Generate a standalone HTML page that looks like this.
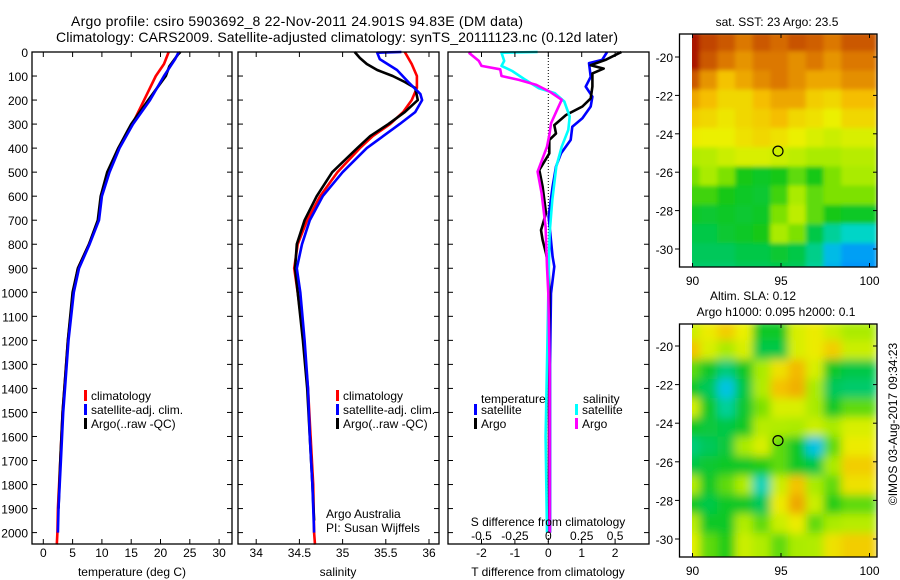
<!DOCTYPE html>
<html><head><meta charset="utf-8"><style>
html,body{margin:0;padding:0;background:#fff;}
svg{display:block;font-family:"Liberation Sans",Arial,sans-serif;}
text{font-size:12px;fill:#000;}
</style></head><body>
<svg id="chart" width="900" height="580" viewBox="0 0 900 580" xmlns="http://www.w3.org/2000/svg">
<defs>
<clipPath id="clipTop"><rect x="692" y="34" width="185" height="233"/></clipPath>
<clipPath id="clipBot"><rect x="692" y="324" width="185" height="233"/></clipPath>
<filter id="blurTop" x="0" y="0" width="1" height="1"><feGaussianBlur stdDeviation="2" edgeMode="duplicate"/></filter>
<filter id="blurBot" x="0" y="0" width="1" height="1"><feGaussianBlur stdDeviation="4.5" edgeMode="duplicate"/></filter>
</defs>
<text x="297" y="26" text-anchor="middle" style="font-size:14px" textLength="452">Argo profile: csiro 5903692_8 22-Nov-2011 24.901S 94.83E (DM data)</text>
<text x="337" y="42" text-anchor="middle" style="font-size:14px" textLength="562">Climatology: CARS2009. Satellite-adjusted climatology: synTS_20111123.nc (0.12d later)</text>
<g id="p1"></g>
<g id="p2"></g>
<g id="p3"></g>
<g id="m1"></g>
<g id="m2"></g>
<text x="777" y="26" text-anchor="middle">sat. SST: 23 Argo: 23.5</text>
<text x="753" y="300" text-anchor="middle">Altim. SLA: 0.12</text>
<text x="776" y="316" text-anchor="middle">Argo h1000: 0.095 h2000: 0.1</text>
<text x="897" y="424" text-anchor="middle" transform="rotate(-90 897 424)">©IMOS 03-Aug-2017 09:34:23</text>
</svg>
<script>
// ---------- profile data ----------
const tempClimDepth=[0,50,100,200,300,400,500,600,700,800,900,1000,1200,1400,1500,1700,1900,2000,2050];
const tempClim=[21.4,20.6,19.2,17.2,15.2,12.8,11.0,9.9,9.4,7.8,5.9,5.1,4.2,3.6,3.3,2.9,2.5,2.4,2.3];
const tempSatDepth=[0,30,100,200,300,400,500,600,700,800,900,1000,1200,1400,1500,1700,1900,2000];
const tempSat=[23.1,22.5,20.6,18.2,15.3,13.0,11.3,10.0,9.5,7.9,6.1,5.2,4.3,3.7,3.4,3.0,2.6,2.5];
const tempArgoDepth=[0,10,60,100,200,300,400,500,600,700,800,900,1000,1200,1400,1500,1700,1900];
const tempArgo=[23.4,23.0,21.5,20.9,17.9,15.0,12.8,10.9,9.8,9.3,7.8,5.9,5.0,4.2,3.6,3.3,2.9,2.6];

const salClimDepth=[0,50,100,150,200,250,300,350,400,500,600,700,800,900,1000,1200,1400,1600,1800,2000,2050];
const salClim=[35.72,35.80,35.86,35.86,35.80,35.70,35.55,35.35,35.20,34.94,34.74,34.59,34.48,34.44,34.48,34.55,34.60,34.63,34.66,34.67,34.68];
const salSatDepth=[0,3,30,75,125,175,200,250,300,350,400,500,600,700,800,900,1000,1200,1400,1600,1800,2000];
const salSat=[35.68,35.40,35.43,35.63,35.76,35.90,35.92,35.84,35.66,35.47,35.28,35.00,34.77,34.62,34.53,34.47,34.51,34.56,34.60,34.62,34.65,34.67];
const salArgoDepth=[0,25,50,75,100,125,150,200,250,300,350,400,500,600,700,800,900,1000,1200,1400,1600,1800,1950];
const salArgo=[35.14,35.20,35.28,35.40,35.58,35.72,35.84,35.87,35.72,35.53,35.32,35.17,34.88,34.70,34.56,34.47,34.45,34.48,34.54,34.59,34.62,34.65,34.67];

const dTSatDepth=[0,33,46,103,144,186,227,276,311,366,422,477,560,685,852,893,1004,1300,1600,2000];
const dTSat=[1.76,1.61,1.22,1.27,1.12,1.32,1.27,1.02,0.72,0.67,0.38,0.23,0.13,0.01,0.13,0.18,0.08,0.05,0.05,0.05];
const dTArgoDepth=[0,33,55,69,89,144,193,227,262,304,339,366,422,491,560,671,741,782,838,893,1004,1300,1600,2000];
const dTArgo=[2.19,1.71,1.27,1.66,1.32,1.32,1.27,1.02,0.53,0.18,0.23,0.03,0.03,-0.27,-0.17,-0.07,-0.22,-0.17,-0.07,0.01,0.03,0.02,0.02,0.02];
const dSSatDepth=[0,3,37,58,79,116,151,172,206,269,324,394,477,616,755,1004,1300,1600,2000];
const dSSat=[-0.08,-0.35,-0.33,-0.35,-0.27,-0.17,-0.07,0.05,0.12,0.16,0.15,0.10,0.06,0.03,0.01,0.0,-0.01,-0.02,-0.01];
const dSArgoDepth=[0,5,37,58,72,100,116,137,165,199,248,297,339,394,498,588,727,893,1004,1300,1600,2000];
const dSArgo=[-0.58,-0.59,-0.52,-0.50,-0.36,-0.35,-0.22,-0.09,0.01,0.10,0.06,0.02,0.01,-0.01,-0.08,-0.05,-0.02,-0.01,0.0,0.01,0.01,0.01];

const depthTicks=[0,100,200,300,400,500,600,700,800,900,1000,1100,1200,1300,1400,1500,1600,1700,1800,1900,2000];
const tempTicks=[0,5,10,15,20,25,30];
const salTicks=[34,34.5,35,35.5,36];
const dTTicks=[-2,-1,0,1,2];
const dSTicks=[-0.5,-0.25,0,0.25,0.5];

// ---------- map data (rows north->south, cols west->east) ----------
const mapLons=[90.4,91.4,92.4,93.4,94.4,95.4,96.4,97.4,98.4,99.4,100.4];
const sstLats=[-19.2,-20.2,-21.2,-22.2,-23.2,-24.2,-25.2,-26.2,-27.2,-28.2,-29.2,-30.2,-31.2];
const sstGrid=[
[0.95,0.88,0.85,0.80,0.85,0.82,0.86,0.84,0.80,0.85,0.85],
[0.95,0.85,0.80,0.74,0.80,0.80,0.75,0.80,0.74,0.80,0.80],
[0.85,0.74,0.64,0.70,0.76,0.80,0.75,0.70,0.70,0.75,0.75],
[0.70,0.65,0.60,0.60,0.65,0.70,0.70,0.62,0.60,0.65,0.65],
[0.62,0.60,0.57,0.60,0.62,0.65,0.60,0.58,0.55,0.60,0.60],
[0.56,0.55,0.55,0.58,0.60,0.58,0.55,0.52,0.50,0.52,0.52],
[0.46,0.47,0.50,0.52,0.52,0.50,0.48,0.45,0.45,0.47,0.47],
[0.42,0.45,0.42,0.35,0.33,0.35,0.40,0.35,0.42,0.45,0.45],
[0.38,0.38,0.35,0.33,0.32,0.38,0.45,0.40,0.42,0.42,0.42],
[0.33,0.32,0.33,0.32,0.33,0.42,0.48,0.40,0.35,0.33,0.33],
[0.30,0.30,0.32,0.33,0.35,0.45,0.42,0.30,0.24,0.21,0.21],
[0.28,0.28,0.28,0.30,0.30,0.32,0.30,0.25,0.17,0.14,0.14],
[0.27,0.27,0.27,0.28,0.28,0.29,0.28,0.24,0.16,0.13,0.13]];
const slaLats=[-19.2,-20.2,-21.2,-22.2,-23.2,-24.2,-25.2,-26.2,-27.2,-28.2,-29.2,-30.2,-31.2];
const slaGrid=[
[0.50,0.56,0.62,0.55,0.33,0.33,0.52,0.56,0.50,0.45,0.45],
[0.64,0.52,0.45,0.52,0.30,0.30,0.52,0.56,0.62,0.50,0.50],
[0.40,0.33,0.26,0.33,0.45,0.58,0.66,0.52,0.33,0.30,0.30],
[0.33,0.28,0.18,0.30,0.46,0.64,0.68,0.45,0.28,0.27,0.27],
[0.52,0.33,0.24,0.32,0.42,0.52,0.52,0.45,0.33,0.40,0.40],
[0.33,0.31,0.30,0.33,0.47,0.46,0.45,0.50,0.45,0.52,0.52],
[0.26,0.28,0.31,0.45,0.52,0.40,0.33,0.18,0.40,0.56,0.56],
[0.30,0.32,0.33,0.33,0.36,0.40,0.33,0.30,0.45,0.62,0.62],
[0.47,0.33,0.40,0.46,0.22,0.50,0.64,0.45,0.40,0.58,0.58],
[0.33,0.30,0.33,0.33,0.28,0.56,0.70,0.50,0.36,0.40,0.40],
[0.48,0.33,0.33,0.46,0.40,0.50,0.56,0.40,0.45,0.47,0.47],
[0.54,0.40,0.36,0.50,0.46,0.40,0.45,0.46,0.58,0.62,0.62],
[0.54,0.40,0.36,0.50,0.46,0.40,0.45,0.46,0.58,0.62,0.62]];
const mapLonTicks=[90,95,100];
const mapLatTicks=[-20,-22,-24,-26,-28,-30];
const argoLon=94.83, argoLat=-24.901;

// ---------- geometry ----------
const NS="http://www.w3.org/2000/svg";
const TOP=52, BOT=544;
const yD=d=>TOP+d*0.2403;
const xT=t=>43.3+t*5.86;
const xS=s=>256.2+(s-34)*86.4;
const xdT=v=>548.3+v*33.4;
const xdS=v=>548.3+v*133.6;
function el(tag,attrs,parent){const e=document.createElementNS(NS,tag);for(const k in attrs)e.setAttribute(k,attrs[k]);parent.appendChild(e);return e;}
function txt(s,x,y,anchor,parent){const t=el('text',{x:x,y:y,'text-anchor':anchor||'start'},parent);t.textContent=s;return t;}
function line(xs,ds,fx,color,parent,name){
  const p=el('polyline',{points:xs.map((v,i)=>fx(v).toFixed(1)+','+yD(ds[i]).toFixed(1)).join(' '),fill:'none',stroke:color,'stroke-width':2.6,'stroke-linejoin':'round'},parent);
  
  
}
function frame(g,x0,x1,name){
  const r=el('rect',{x:x0,y:TOP,width:x1-x0,height:BOT-TOP,fill:'none',stroke:'#000','stroke-width':1.3},g);
  
  
}
function depthTicksOn(g,x0,x1,labels){
  depthTicks.forEach(d=>{
    const y=yD(d);
    el('line',{x1:x0,y1:y,x2:x0+5,y2:y,stroke:'#000'},g);
    el('line',{x1:x1,y1:y,x2:x1-5,y2:y,stroke:'#000'},g);
    if(labels){const t=txt(String(d),28,y+5,'end',g);
      
      }
  });
}
function xTicks(g,ticks,fx,labelY){
  ticks.forEach(v=>{
    const x=fx(v);
    el('line',{x1:x,y1:TOP,x2:x,y2:TOP+5,stroke:'#000'},g);
    el('line',{x1:x,y1:BOT,x2:x,y2:BOT-5,stroke:'#000'},g);
    if(labelY){const t=txt(String(v),x,labelY,'middle',g);
      
      }
  });
}
function legendEntry(g,x,y,color,label){
  const r=el('rect',{x:x,y:y-9,width:3,height:11,fill:color},g);
  
  
  const t=txt(label,x+7,y+1,'start',g);
  
  
}

// panel 1
const p1=document.getElementById('p1');
line(tempClim,tempClimDepth,xT,'#ff0000',p1,'temp-climatology-line');
line(tempArgo,tempArgoDepth,xT,'#000000',p1,'temp-argo-line');
line(tempSat,tempSatDepth,xT,'#0000ff',p1,'temp-satellite-line');
frame(p1,32,232,'temperature-frame');
depthTicksOn(p1,32,232,true);
xTicks(p1,tempTicks,xT,557);
{const t=txt('temperature (deg C)',132,576,'middle',p1);}
legendEntry(p1,84,399,'#ff0000','climatology');
legendEntry(p1,84,413,'#0000ff','satellite-adj. clim.');
legendEntry(p1,84,427,'#000000','Argo(..raw -QC)');

// panel 2
const p2=document.getElementById('p2');
line(salClim,salClimDepth,xS,'#ff0000',p2,'sal-climatology-line');
line(salArgo,salArgoDepth,xS,'#000000',p2,'sal-argo-line');
line(salSat,salSatDepth,xS,'#0000ff',p2,'sal-satellite-line');
frame(p2,238,439,'salinity-frame');
depthTicksOn(p2,238,439,false);
xTicks(p2,salTicks,xS,557);
{const t=txt('salinity',338,576,'middle',p2);}
legendEntry(p2,336,399,'#ff0000','climatology');
legendEntry(p2,336,413,'#0000ff','satellite-adj. clim.');
legendEntry(p2,336,427,'#000000','Argo(..raw -QC)');
{const t=txt('Argo Australia',326,518,'start',p2);}
{const t=txt('PI: Susan Wijffels',326,532,'start',p2);}

// panel 3
const p3=document.getElementById('p3');
{const z=el('line',{x1:xdT(0),y1:TOP,x2:xdT(0),y2:BOT,stroke:'#000','stroke-dasharray':'1,2'},p3);}
line(dTSat,dTSatDepth,xdT,'#0000ff',p3,'dT-satellite-line');
line(dTArgo,dTArgoDepth,xdT,'#000000',p3,'dT-argo-line');
line(dSSat,dSSatDepth,xdS,'#00ffff',p3,'dS-satellite-line');
line(dSArgo,dSArgoDepth,xdS,'#ff00ff',p3,'dS-argo-line');
frame(p3,448,649,'difference-frame');
depthTicksOn(p3,448,649,false);
xTicks(p3,dTTicks,xdT,557);
dSTicks.forEach(v=>{const t=txt(String(v),xdS(v),540,'middle',p3);});
{const t=txt('S difference from climatology',548,526,'middle',p3);}
{const t=txt('T difference from climatology',548,576,'middle',p3);}
{const t=txt('temperature',481,403,'start',p3);}
{const t=txt('salinity',583,403,'start',p3);}
legendEntry(p3,474,413,'#0000ff','satellite');
legendEntry(p3,474,427,'#000000','Argo');
legendEntry(p3,575,413,'#00ffff','satellite');
legendEntry(p3,575,427,'#ff00ff','Argo');

// colormap
const stops=[[0.0,[0,60,255]],[0.12,[0,140,255]],[0.2,[0,215,215]],[0.28,[0,200,90]],[0.35,[20,200,20]],[0.45,[170,235,0]],[0.55,[235,240,0]],[0.65,[245,190,0]],[0.8,[220,120,0]],[0.95,[170,25,0]],[1.0,[150,0,0]]];
function cmap(v){for(let i=1;i<stops.length;i++){if(v<=stops[i][0]){const a=stops[i-1],b=stops[i];const f=(v-a[0])/(b[0]-a[0]);const c=a[1].map((q,k)=>Math.round(q+(b[1][k]-q)*f));return 'rgb('+c.join(',')+')';}}return 'rgb(150,0,0)';}

function drawMap(gid,lats,grid,top,latY,clipId,filterId,tickLabelY,prefix){
  const g=document.getElementById(gid);
  const xL=l=>692.5+(l-90)*17.7;
  const cg=el('g',{'clip-path':'url(#'+clipId+')'},g);
  const fg=el('g',{filter:'url(#'+filterId+')'},cg);
  grid.forEach((row,r)=>row.forEach((v,c)=>{
    const x=xL(mapLons[c]-1.0), y=latY(lats[r]+0.5);
    const rc=el('rect',{x:x.toFixed(1),y:y.toFixed(1),width:(17.7+0.6).toFixed(1),height:(19.25+0.6).toFixed(1),fill:cmap(v)},fg);
    
    
  }));
  const fr=el('rect',{x:679.5,y:top,width:197.5,height:233,fill:'none',stroke:'#000','stroke-width':1.3},g);
  
  
  mapLonTicks.forEach(l=>{const x=xL(l);
    el('line',{x1:x,y1:top,x2:x,y2:top+4,stroke:'#000'},g);
    el('line',{x1:x,y1:top+233,x2:x,y2:top+229,stroke:'#000'},g);
    const t=txt(String(l),x,tickLabelY,'middle',g);
    
    });
  mapLatTicks.forEach(la=>{const y=latY(la);
    el('line',{x1:679.5,y1:y,x2:675,y2:y,stroke:'#000'},g);
    el('line',{x1:877,y1:y,x2:873,y2:y,stroke:'#000'},g);
    const t=txt(String(la),673,y+5,'end',g);
    
    });
  const m=el('circle',{cx:xL(argoLon),cy:latY(argoLat),r:5,fill:'none',stroke:'#000','stroke-width':1.2},g);
  
  
}
drawMap('m1',sstLats,sstGrid,34,la=>57+(-20-la)*19.2,'clipTop','blurTop',285,'sst-map');
drawMap('m2',slaLats,slaGrid,324,la=>346+(-20-la)*19.3,'clipBot','blurBot',575,'sla-map');
</script>
</body></html>
